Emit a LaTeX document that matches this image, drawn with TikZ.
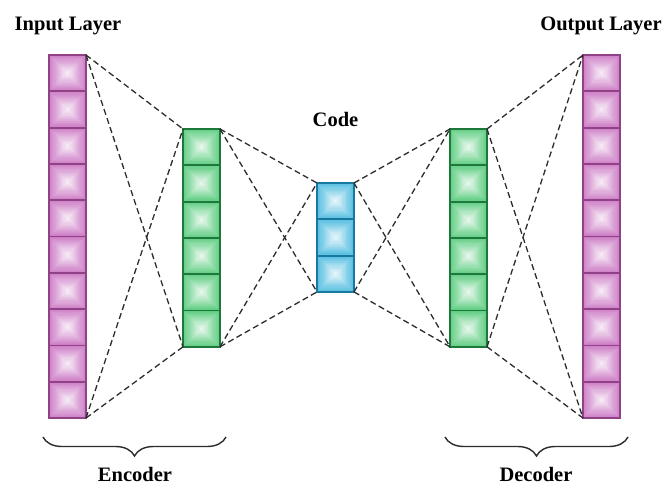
\documentclass[tikz,border=0pt]{standalone}
\usepackage{fontspec}
\setmainfont{Liberation Serif}
\usetikzlibrary{calc,decorations.pathreplacing}

\definecolor{pinkedge}{RGB}{145,65,135}
\definecolor{pinkfill}{RGB}{205,125,198}
\definecolor{greenedge}{RGB}{30,120,60}
\definecolor{greenfill}{RGB}{95,205,130}
\definecolor{blueedge}{RGB}{25,120,160}
\definecolor{bluefill}{RGB}{85,190,225}
\definecolor{linkgray}{RGB}{45,45,45}

\tikzset{
  layer/.style={draw=none, minimum width=37pt, inner sep=0pt, outer sep=0pt},
  bevel/.style={
    path picture={
      \foreach \k [evaluate=\k as \p using {int(100-5.4*\k)},
                   evaluate=\k as \f using {0.03*\k}] in {0,...,16}{
        \fill[#1!\p!white]
          ($(path picture bounding box.south west)!\f!(path picture bounding box.north east)$)
          rectangle
          ($(path picture bounding box.north east)!\f!(path picture bounding box.south west)$);
      }
    }
  },
  cellnode/.style={minimum width=37pt, minimum height=36.3pt, inner sep=0pt,
    outer sep=0pt, line width=1.8pt, bevel=#1},
  link/.style={draw=linkgray, line width=1.3pt, dash pattern=on 6pt off 3.5pt},
  bracket/.style={draw=linkgray, line width=1.4pt,
    decorate, decoration={brace, mirror, amplitude=19pt}},
  caption/.style={font=\bfseries\fontsize{20.5}{24}\selectfont, anchor=base, inner sep=0pt}
}

% one layer: name, left x, top y, number of cells, fill colour, edge colour
\newcommand\layercells[6]{%
  \node[layer, minimum height=#4*36.3pt, anchor=north west] (#1) at (#2,#3) {};
  \foreach \i in {1,...,#4}{
    \node[cellnode=#5, draw=#6, anchor=north west] (#1-\i) at ({#2},{#3+(\i-1)*36.3}) {};
  }
}

\begin{document}
\begin{tikzpicture}[x=1pt, y=-1pt]
  \useasboundingbox[fill=white] (0,0) rectangle (666,485);

  \layercells{inp}{49}{55}{10}{pinkfill}{pinkedge}
  \layercells{enc}{183}{129}{6}{greenfill}{greenedge}
  \layercells{code}{317}{183}{3}{bluefill}{blueedge}
  \layercells{dec}{450}{129}{6}{greenfill}{greenedge}
  \layercells{out}{583}{55}{10}{pinkfill}{pinkedge}

  % fully connected dashed links between neighbouring layers
  \foreach \a/\b in {inp/enc, enc/code, code/dec, dec/out}{
    \draw[link] (\a.north east) -- (\b.north west);
    \draw[link] (\a.north east) -- (\b.south west);
    \draw[link] (\a.south east) -- (\b.north west);
    \draw[link] (\a.south east) -- (\b.south west);
  }

  % braces under encoder and decoder
  \coordinate (encL) at (43,437);
  \coordinate (encR) at (226,437);
  \coordinate (decL) at (445,437);
  \coordinate (decR) at (628,437);
  \draw[bracket] (encL) -- (encR);
  \draw[bracket] (decL) -- (decR);

  % labels
  \node[caption] (lin)  at (68,30)   {Input Layer};
  \node[caption] (lout) at (601,30)  {Output Layer};
  \node[caption] (lcode) at (335.5,126) {Code};
  \node[caption] (lenc) at (135,481) {Encoder};
  \node[caption] (ldec) at (536,481) {Decoder};
\end{tikzpicture}
\end{document}
